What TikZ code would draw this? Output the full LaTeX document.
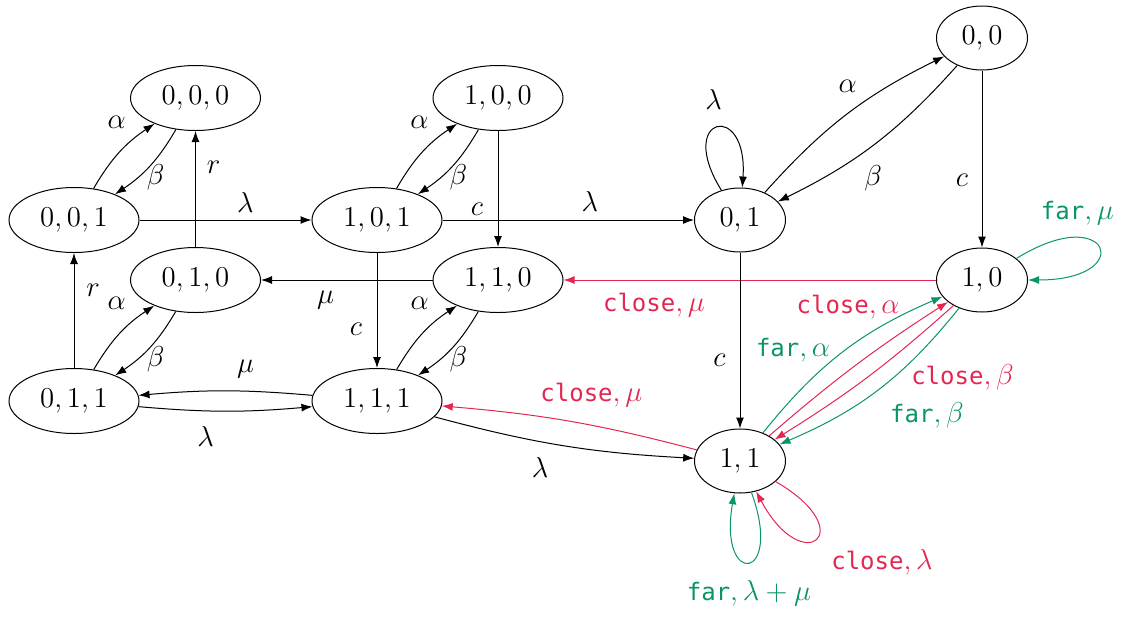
\documentclass[tikz,border=0pt]{standalone}
\usepackage{fontspec}
\setmonofont{DejaVu Sans Mono}
\usetikzlibrary{arrows.meta,shapes.geometric}
\definecolor{closecol}{RGB}{228,38,80}
\definecolor{farcol}{RGB}{10,148,104}
\newcommand{\CLOSE}{{\fontsize{12}{14}\selectfont\ttfamily close}}
\newcommand{\FAR}{{\fontsize{12}{14}\selectfont\ttfamily far}}
\begin{document}
\begin{tikzpicture}[x=0.5pt,y=0.5pt,
  stnode/.style={draw,ellipse,line width=0.5pt,minimum width=65pt,minimum height=32.5pt,inner sep=0pt,font=\fontsize{13.5}{16}\selectfont},
  pstnode/.style={stnode,minimum width=45.5pt,minimum height=32pt},
  tr/.style={-{Latex[length=5.5pt,width=4pt]},line width=0.5pt},
  ctr/.style={tr,draw=closecol},
  ftr/.style={tr,draw=farcol},
  lab/.style={font=\fontsize{13.5}{16}\selectfont,inner sep=0pt,anchor=center},
  clab/.style={lab,text=closecol},
  flab/.style={lab,text=farcol}]
\path[use as bounding box] (0,0) rectangle (1121,-617);

% states
\node[stnode] (n000) at (195.5,-98) {$0,0,0$};
\node[stnode] (n100) at (498,-98) {$1,0,0$};
\node[stnode] (n001) at (74,-220) {$0,0,1$};
\node[stnode] (n101) at (377,-220) {$1,0,1$};
\node[stnode] (n010) at (195.5,-280) {$0,1,0$};
\node[stnode] (n110) at (498,-280) {$1,1,0$};
\node[stnode] (n011) at (74,-401) {$0,1,1$};
\node[stnode] (n111) at (377,-401) {$1,1,1$};
\node[pstnode] (n00) at (982,-38) {$0,0$};
\node[pstnode] (n01) at (740,-220) {$0,1$};
\node[pstnode] (n10) at (982,-280) {$1,0$};
\node[pstnode] (n11) at (740,-461) {$1,1$};

% left block
\draw[tr] (n001) to[bend left=13] node[lab,xshift=-1.5pt,yshift=15pt] (l1) {$\alpha$} (n000);
\draw[tr] (n000) to[bend left=13] node[lab,xshift=3pt,yshift=-5.75pt] (l2) {$\beta$} (n001);
\draw[tr] (n101) to[bend left=13] node[lab,xshift=-1.5pt,yshift=15pt] (l1b) {$\alpha$} (n100);
\draw[tr] (n100) to[bend left=13] node[lab,xshift=3pt,yshift=-5.75pt] (l2b) {$\beta$} (n101);
\draw[tr] (n011) to[bend left=13] node[lab,xshift=-1.5pt,yshift=15pt] (l3) {$\alpha$} (n010);
\draw[tr] (n010) to[bend left=13] node[lab,xshift=3pt,yshift=-5.75pt] (l4) {$\beta$} (n011);
\draw[tr] (n111) to[bend left=13] node[lab,xshift=-1.5pt,yshift=15pt] (l5) {$\alpha$} (n110);
\draw[tr] (n110) to[bend left=13] node[lab,xshift=3pt,yshift=-5.75pt] (l6) {$\beta$} (n111);
\draw[tr] (n010) -- node[lab,pos=.684,xshift=9pt] (l7) {$r$} (n000);
\draw[tr] (n011) -- node[lab,pos=.672,xshift=9.5pt] (l8) {$r$} (n001);
\draw[tr] (n001) -- node[lab,pos=.615,yshift=9pt] (l9) {$\lambda$} (n101);
\draw[tr] (n100) -- node[lab,pos=.675,xshift=-10.5pt] (l10) {$c$} (n110);
\draw[tr] (n101) -- node[lab,pos=.586,yshift=9.5pt] (l11) {$\lambda$} (n01);
\draw[tr] (n101) -- node[lab,pos=.667,xshift=-10.5pt] (l12) {$c$} (n111);
\draw[tr] (n110) -- node[lab,pos=.624,yshift=-10pt] (l13) {$\mu$} (n010);
\draw[tr] (n111) to[bend right=5] node[lab,xshift=10pt,yshift=11pt] (l14) {$\mu$} (n011);
\draw[tr] (n011) to[bend right=5] node[lab,xshift=-10pt,yshift=-12.5pt] (l15) {$\lambda$} (n111);
\draw[tr] (n111) to[bend right=6] node[lab,xshift=-11.5pt,yshift=-11pt] (l16) {$\lambda$} (n11);
\draw[ctr] (n11) to[bend right=5] node[clab,xshift=10.5pt,yshift=13pt] (l17) {\CLOSE$,\mu$} (n111);

% right block
\draw[tr] (n01) to[out=122,in=86,looseness=1,min distance=44pt] node[lab,xshift=-1.5pt,yshift=14.5pt] (l18) {$\lambda$} (n01);
\draw[tr] (n01) to[bend left=11] node[lab,xshift=.5pt,yshift=14pt] (l19) {$\alpha$} (n00);
\draw[tr] (n00) to[bend left=11] node[lab,xshift=-1pt,yshift=-17.5pt] (l20) {$\beta$} (n01);
\draw[tr] (n00) -- node[lab,pos=.618,xshift=-10pt] (l21) {$c$} (n10);
\draw[ftr] (n10) to[out=32,in=0,looseness=1,min distance=55pt] node[flab,xshift=-10.5pt,yshift=17.25pt] (l22) {\FAR$,\mu$} (n10);
\draw[ctr] (n10) -- node[clab,pos=.757,yshift=-12.5pt] (l23) {\CLOSE$,\mu$} (n110);
\draw[tr] (n01) -- node[lab,pos=.61,xshift=-10.25pt] (l24) {$c$} (n11);
\draw[ftr] (n11) to[bend left=14] node[flab,xshift=-25pt,yshift=.8pt] (l25) {\FAR$,\alpha$} (n10);
\draw[ctr] (n11) to[bend left=4] node[clab,xshift=-3.85pt,yshift=29.2pt] (l26) {\CLOSE$,\alpha$} (n10);
\draw[ctr] (n10) to[bend left=5] node[clab,xshift=47.5pt] (l27) {\CLOSE$,\beta$} (n11);
\draw[ftr] (n10) to[bend left=14] node[flab,xshift=24pt,yshift=-13pt] (l28) {\FAR$,\beta$} (n11);
\draw[ftr] (n11) to[out=-70,in=-100,looseness=1,min distance=48pt] node[flab,yshift=-15.5pt] (l29) {\FAR$,\lambda+\mu$} (n11);
\draw[ctr] (n11) to[out=-30,in=-62,looseness=1,min distance=50pt] node[clab,xshift=33pt,yshift=-12pt] (l30) {\CLOSE$,\lambda$} (n11);
\end{tikzpicture}
\end{document}
